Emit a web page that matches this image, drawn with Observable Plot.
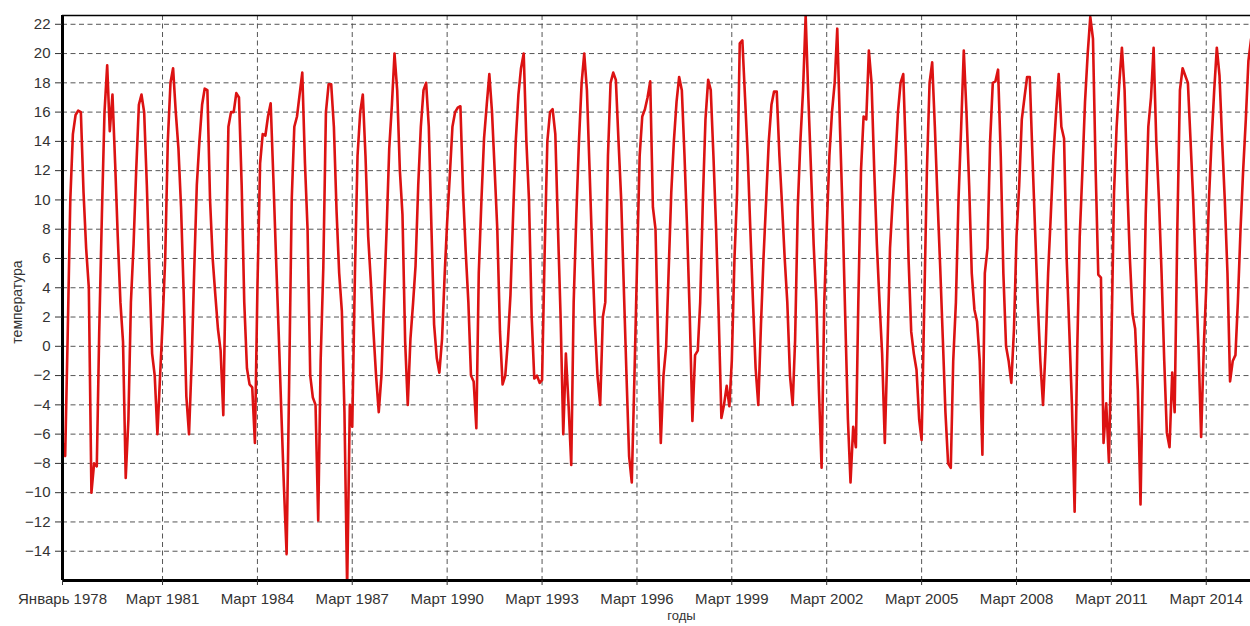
<!DOCTYPE html>
<html><head><meta charset="utf-8">
<script src="https://cdn.jsdelivr.net/npm/d3@7"></script>
<script src="https://cdn.jsdelivr.net/npm/@observablehq/plot@0.6"></script>
<style>
body{margin:0;background:#fff;}
#chart{width:1250px;height:626px;overflow:hidden;}
</style>
</head><body><div id="chart"></div>
<script>
// Monthly temperature series, starting January 1978 (12 values per year)
const startYear = 1978;
const temps = [
  -6.5, -7.5, 0.5, 10, 14.5, 15.8, 16.1, 16, 10.5, 6.7, 4, -10,        // 1978
  -8, -8.2, 1, 9, 16, 19.2, 14.7, 17.2, 12.5, 7.5, 3, 0.3,             // 1979
  -9, -5, 3, 7, 12, 16.5, 17.2, 16, 11, 5, -0.5, -2,                   // 1980
  -6, -2, 1.5, 6, 14, 18, 19, 16, 13.5, 9.5, 3.5, -3.4,                // 1981
  -6, -1, 5, 11, 14, 16.5, 17.6, 17.5, 10, 6, 3.5, 1.2,                // 1982
  -0.3, -4.7, 5, 15, 16, 16, 17.3, 17, 11, 3, -1.5, -2.6,              // 1983
  -2.8, -6.6, 4, 12.5, 14.5, 14.4, 15.7, 16.6, 11.5, 6.2, 1, -4.3,     // 1984
  -9.6, -14.2, -3, 10, 15, 15.7, 17.2, 18.7, 12.5, 8, -2, -3.5,        // 1985
  -4, -11.9, -1, 5.4, 16, 17.9, 17.9, 15, 9.2, 5, 2.4, -4.5,           // 1986
  -16.5, -4, -5.5, 5, 13, 16, 17.2, 13, 7.5, 4.5, 1, -2,               // 1987
  -4.5, -2, 3, 8, 13.5, 16.5, 20, 17.5, 12, 9, 0.3, -4,                // 1988
  0.5, 3, 5.5, 11, 15, 17.5, 18, 15, 8, 1.5, -0.8, -1.8,               // 1989
  0.5, 5, 8.5, 11.7, 15, 16, 16.3, 16.4, 10.5, 6.5, 3, -2,             // 1990
  -2.4, -5.6, 5, 10, 14.2, 16.5, 18.6, 16, 12, 8, 1, -2.6,             // 1991
  -2, 0.4, 3.5, 9, 14, 17.2, 19, 20, 14, 10, 2, -2.2,                  // 1992
  -2, -2.5, -2.3, 6.7, 14, 16, 16.2, 14.5, 8, 2, -6, -0.5,             // 1993
  -4, -8.1, 3, 9, 14, 18, 20, 17.5, 12, 6.5, 1.5, -2,                  // 1994
  -4, 2, 3, 13, 18, 18.7, 18.2, 14, 10, 4, -2, -7.5,                   // 1995
  -9.3, -2, 5.4, 13, 15.7, 16.2, 17, 18.1, 9.5, 8, 0, -6.6,            // 1996
  -2, 0, 5, 10.5, 14, 16.7, 18.4, 17.5, 13, 8, 2, -5.1,                // 1997
  -0.6, -0.3, 3, 10, 15.5, 18.2, 17.5, 13, 8, 2, -4.9, -4,             // 1998
  -2.7, -4.1, -1, 6, 10.5, 20.7, 20.9, 17, 13, 8, 3, -1.5,             // 1999
  -4, 1.5, 6, 10, 14, 16.5, 17.4, 17.4, 13, 9.7, 6, 3,                 // 2000
  -2, -4, 0.4, 9.5, 14, 17.5, 22.6, 17, 12, 7, 3, -3,                  // 2001
  -8.3, 3, 8, 13, 16, 18, 21.7, 15, 9, 2, -5, -9.3,                    // 2002
  -5.5, -6.9, 3, 12, 15.7, 15.5, 20.2, 18, 12, 7, 3, -0.5,             // 2003
  -6.6, 0, 6.7, 10, 12.5, 16, 18, 18.6, 13, 6, 1, -0.5,                // 2004
  -1.6, -5, -6.4, 3, 12, 18, 19.4, 15, 10, 5.5, 0.5, -4.5,             // 2005
  -8, -8.3, -1, 3, 10, 15, 20.2, 16, 11, 5, 2.5, 1.7,                  // 2006
  -1, -7.4, 5, 6.7, 14, 18, 18.1, 18.9, 13, 5, 0, -1,                  // 2007
  -2.5, 1.2, 7.5, 11, 15.5, 17, 18.4, 18.4, 13, 8, 3, -1,              // 2008
  -4, 0, 5, 9, 13, 16, 18.6, 15, 14.2, 6, 1, -4,                       // 2009
  -11.3, 0, 7.5, 12, 16.7, 20, 22.5, 21, 12, 4.9, 4.7, -6.6,           // 2010
  -3.9, -7.9, 0, 10.5, 15, 18, 20.4, 17.5, 11, 6, 2.2, 1.2,            // 2011
  -3, -10.8, -1, 9, 15, 17, 20.4, 14, 10, 5, -1, -5.9,                 // 2012
  -6.9, -1.8, -4.5, 8, 17.5, 19, 18.5, 18, 14, 10, 5, 0,               // 2013
  -6.2, 0, 4, 10, 14, 17.5, 20.4, 18.5, 14, 10, 5, -2.4,               // 2014
  -1, -0.6, 3, 8, 12, 15.5, 19.5, 21                                   // 2015
];

// X tick positions (year, month index) and their labels
const xTickYears  = [1978, 1981, 1984, 1987, 1990, 1993, 1996, 1999, 2002, 2005, 2008, 2011, 2014];
const xTickMonths = [0, 2, 2, 2, 2, 2, 2, 2, 2, 2, 2, 2, 2];
const xTickLabels = ["Январь 1978", "Март 1981", "Март 1984", "Март 1987", "Март 1990", "Март 1993",
  "Март 1996", "Март 1999", "Март 2002", "Март 2005", "Март 2008", "Март 2011", "Март 2014"];

// Y ticks
const yTickValues = [-14, -12, -10, -8, -6, -4, -2, 0, 2, 4, 6, 8, 10, 12, 14, 16, 18, 20, 22];

const xLabel = "годы";
const yLabel = "температура";

// build table
const data = temps.map((t, i) => ({date: new Date(Date.UTC(startYear, i, 1)), temp: t}));
const xTicks = xTickYears.map((y, i) => new Date(Date.UTC(y, xTickMonths[i], 1)));
const labelOf = new Map(xTicks.map((d, i) => [+d, xTickLabels[i]]));

const xDomain = [new Date(Date.UTC(1978, 0, 1)), new Date(Date.UTC(2015, 6, 25))];
const yDomain = [-16, 22.6];

const font = "'Liberation Sans', Arial, sans-serif";

const chart = Plot.plot({
  width: 1250,
  height: 626,
  marginLeft: 62,
  marginRight: 0,
  marginTop: 15,
  marginBottom: 46,
  style: {fontFamily: font, fontSize: "15px", color: "#333", background: "#fff"},
  x: {type: "utc", domain: xDomain},
  y: {domain: yDomain},
  marks: [
    Plot.gridY(yTickValues, {stroke: "#444", strokeOpacity: 0.9, strokeDasharray: "5,3.5", strokeWidth: 1}),
    Plot.gridX(xTicks.slice(1), {stroke: "#444", strokeOpacity: 0.9, strokeDasharray: "5,3.5", strokeWidth: 1}),
    Plot.lineY(data, {x: "date", y: "temp", stroke: "#dc1212", strokeWidth: 2.6, clip: true}),
    Plot.ruleY([yDomain[1]], {stroke: "#000", strokeWidth: 1.6}),
    Plot.ruleY([yDomain[0]], {stroke: "#000", strokeWidth: 3}),
    Plot.ruleX([xDomain[0]], {stroke: "#000", strokeWidth: 3}),
    Plot.axisY(yTickValues, {tickSize: 7, tickPadding: 5, label: null, fontSize: 15, stroke: "#333"}),
    Plot.axisX(xTicks, {tickSize: 5, tickPadding: 8, label: null, fontSize: 15, stroke: "#333",
      tickFormat: d => labelOf.get(+d)}),
    Plot.text([xLabel], {frameAnchor: "bottom", textAnchor: "middle", dx: 25, dy: 39, fontSize: 13, fill: "#333"}),
    Plot.text([yLabel], {frameAnchor: "left", textAnchor: "middle", rotate: -90, dx: -45, dy: 4, fontSize: 14, fill: "#333"})
  ]
});
document.getElementById("chart").appendChild(chart);
</script>
</body></html>
